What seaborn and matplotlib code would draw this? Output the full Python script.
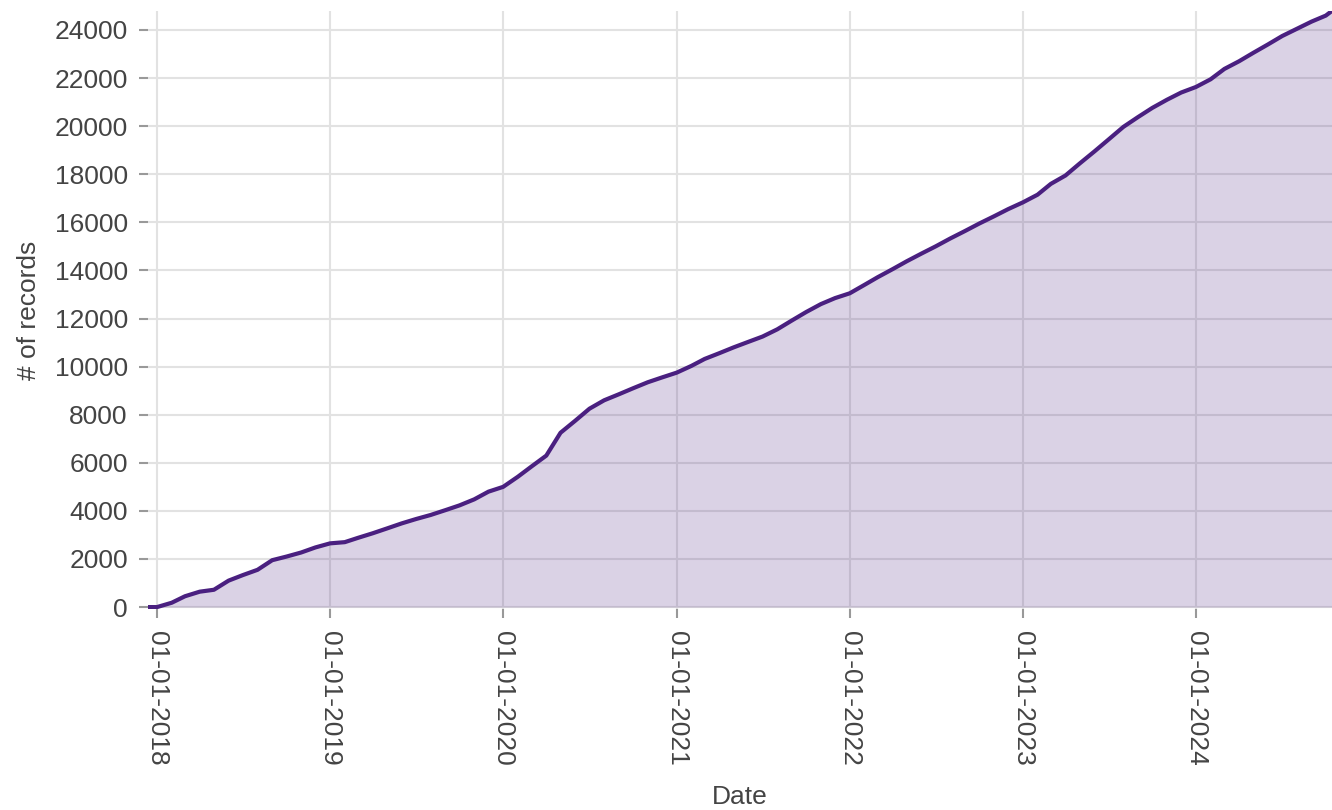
import pandas as pd
import matplotlib
matplotlib.use("Agg")
import matplotlib.pyplot as plt
import matplotlib.dates as mdates
import seaborn as sns

# 累计记录数（按月读取）
dates = [
    "2017-12-10", "2018-01-01", "2018-02-01", "2018-03-01", "2018-04-01", "2018-05-01",
    "2018-06-01", "2018-07-01", "2018-08-01", "2018-09-01", "2018-10-01", "2018-11-01",
    "2018-12-01", "2019-01-01", "2019-02-01", "2019-03-01", "2019-04-01", "2019-05-01",
    "2019-06-01", "2019-07-01", "2019-08-01", "2019-09-01", "2019-10-01", "2019-11-01",
    "2019-12-01", "2020-01-01", "2020-02-01", "2020-03-01", "2020-04-01", "2020-05-01",
    "2020-06-01", "2020-07-01", "2020-08-01", "2020-09-01", "2020-10-01", "2020-11-01",
    "2020-12-01", "2021-01-01", "2021-02-01", "2021-03-01", "2021-04-01", "2021-05-01",
    "2021-06-01", "2021-07-01", "2021-08-01", "2021-09-01", "2021-10-01", "2021-11-01",
    "2021-12-01", "2022-01-01", "2022-02-01", "2022-03-01", "2022-04-01", "2022-05-01",
    "2022-06-01", "2022-07-01", "2022-08-01", "2022-09-01", "2022-10-01", "2022-11-01",
    "2022-12-01", "2023-01-01", "2023-02-01", "2023-03-01", "2023-04-01", "2023-05-01",
    "2023-06-01", "2023-07-01", "2023-08-01", "2023-09-01", "2023-10-01", "2023-11-01",
    "2023-12-01", "2024-01-01", "2024-02-01", "2024-03-01", "2024-04-01", "2024-05-01",
    "2024-06-01", "2024-07-01", "2024-08-01", "2024-09-01", "2024-10-01", "2024-10-13",
]
records = [
    0, 0, 180, 450, 640, 720,
    1100, 1330, 1550, 1950, 2100, 2270,
    2480, 2650, 2700, 2880, 3070, 3270,
    3480, 3660, 3830, 4030, 4230, 4480,
    4800, 5000, 5420, 5850, 6300, 7250,
    7750, 8250, 8600, 8850, 9100, 9350,
    9550, 9750, 10030, 10320, 10560, 10800,
    11030, 11250, 11550, 11920, 12270, 12600,
    12850, 13050, 13400, 13720, 14050, 14380,
    14700, 15000, 15330, 15640, 15950, 16250,
    16550, 16830, 17150, 17600, 17950, 18450,
    18950, 19450, 19970, 20380, 20760, 21100,
    21400, 21630, 21950, 22380, 22700, 23050,
    23400, 23750, 24050, 24350, 24600, 24780,
]

line_color = "#4a2080"
text_color = "#444444"

sns.set_style("whitegrid", {"grid.color": "#e2e2e2"})
plt.rcParams['font.family'] = ['Liberation Sans', 'DejaVu Sans']

df = pd.DataFrame({"Date": pd.to_datetime(dates), "records": records})

fig = plt.figure(figsize=(13.32, 8.10), dpi=100)
ax = fig.add_axes([148 / 1332, 1 - 609 / 810, 1 - 148 / 1332, (609 - 11) / 810])

ax.fill_between(df["Date"], df["records"], color=line_color, alpha=0.2, linewidth=0)
sns.lineplot(data=df, x="Date", y="records", color=line_color, linewidth=3, ax=ax)

ax.set_xlim(pd.Timestamp("2017-12-13"), pd.Timestamp("2024-10-14"))
ax.set_ylim(-80, 24790)
ax.set_yticks(range(0, 24001, 2000))
ax.xaxis.set_major_locator(mdates.YearLocator())
ax.xaxis.set_major_formatter(mdates.DateFormatter('%d-%m-%Y'))

ax.grid(True, linewidth=1.5)
ax.set_axisbelow(True)
sns.despine(ax=ax, left=True, bottom=True)

# 刻度线
ax.tick_params(axis="both", which="major", bottom=True, left=True,
               length=6.5, width=1.5, color="#999999",
               labelsize=19, labelcolor=text_color)
ax.tick_params(axis="x", pad=9)
ax.tick_params(axis="y", pad=8)
for lbl in ax.get_xticklabels():
    lbl.set_rotation(270)
    lbl.set_ha("center")
    lbl.set_va("top")

ax.set_xlabel("Date", fontsize=19, color=text_color, labelpad=14)
ax.set_ylabel("# of records", fontsize=19, color=text_color, labelpad=10)

fig.savefig("out.png", dpi=100)
